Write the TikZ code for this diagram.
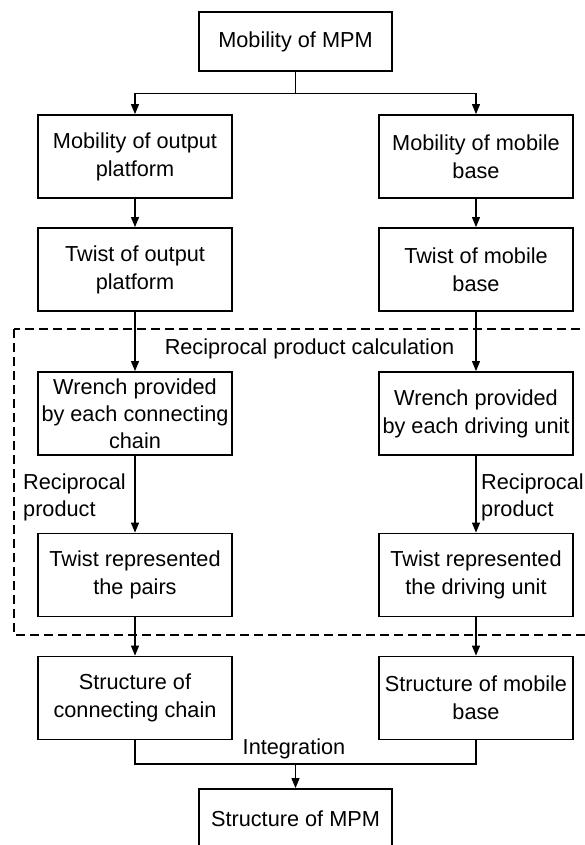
\documentclass[tikz,border=0pt]{standalone}
\usepackage{fontspec}
\setmainfont{Liberation Sans}
\usetikzlibrary{arrows.meta}

\begin{document}
\begin{tikzpicture}[x=1pt, y=-1pt,
  every node/.style={font=\fontsize{21.7}{28}\selectfont},
  stepbox/.style={draw, line width=1.8pt, minimum width=194pt, minimum height=83pt,
                  inner sep=0pt, align=center},
  endbox/.style={stepbox, minimum width=193pt, minimum height=59pt},
  link/.style={line width=1.1pt},
  flow/.style={link, -{Triangle[length=10pt, width=8pt]}},
  note/.style={inner sep=0pt, align=left, anchor=west},
  group/.style={draw, line width=2pt, dash pattern=on 9pt off 5pt}
]
\useasboundingbox (0,0) rectangle (585,845);
\clip (0,0) rectangle (585,845);
\fill[white] (0,0) rectangle (585,845);

% boxes
\node[endbox] (top) at (295.5,41.5) {Mobility of MPM};
\node[stepbox] (a1) at (135,156.5) {Mobility of output\\platform};
\node[stepbox] (b1) at (476,156.5) {Mobility of mobile\\base};
\node[stepbox] (a2) at (135,269.5) {Twist of output\\platform};
\node[stepbox] (b2) at (476,269.5) {Twist of mobile\\base};
\node[stepbox, font=\fontsize{21.7}{27}\selectfont] (a3) at (135,413.5) {Wrench provided\\by each connecting\\chain};
\node[stepbox] (b3) at (476,413.5) {Wrench provided\\by each driving unit};
\node[stepbox] (a4) at (135,575) {Twist represented\\the pairs};
\node[stepbox] (b4) at (476,575) {Twist represented\\the driving unit};
\node[stepbox] (a5) at (135,698) {Structure of\\connecting chain};
\node[stepbox] (b5) at (476,698) {Structure of mobile\\base};
\node[endbox] (out) at (295.5,818.5) {Structure of MPM};

% dashed frame around the reciprocal product step
\draw[group] (14,329) rectangle (600,635);
\node[inner sep=0pt] (calc) at (309.5,349) {Reciprocal product calculation};
\node[note, font=\fontsize{21.7}{27}\selectfont] (lrp) at (23,497) {Reciprocal\\product};
\node[note, font=\fontsize{21.7}{27}\selectfont] (rrp) at (481,497) {Reciprocal\\product};

% connectors
\coordinate (split) at (295.5,93.5);
\coordinate (join) at (295.5,764);
\draw[link] (top) -- (split);
\draw[flow] (split) -| (a1.north);
\draw[flow] (split) -| (b1.north);
\draw[flow] (a1) -- (a2);
\draw[flow] (b1) -- (b2);
\draw[flow] (a2) -- (a3);
\draw[flow] (b2) -- (b3);
\draw[flow] (a3) -- (a4);
\draw[flow] (b3) -- (b4);
\draw[flow] (a4) -- (a5);
\draw[flow] (b4) -- (b5);
\draw[link] (a5.south) |- (join);
\draw[link] (b5.south) |- (join);
\draw[flow] (join) -- (out.north);
\node[inner sep=0pt] (integ) at (294,749) {Integration};
\end{tikzpicture}
\end{document}
